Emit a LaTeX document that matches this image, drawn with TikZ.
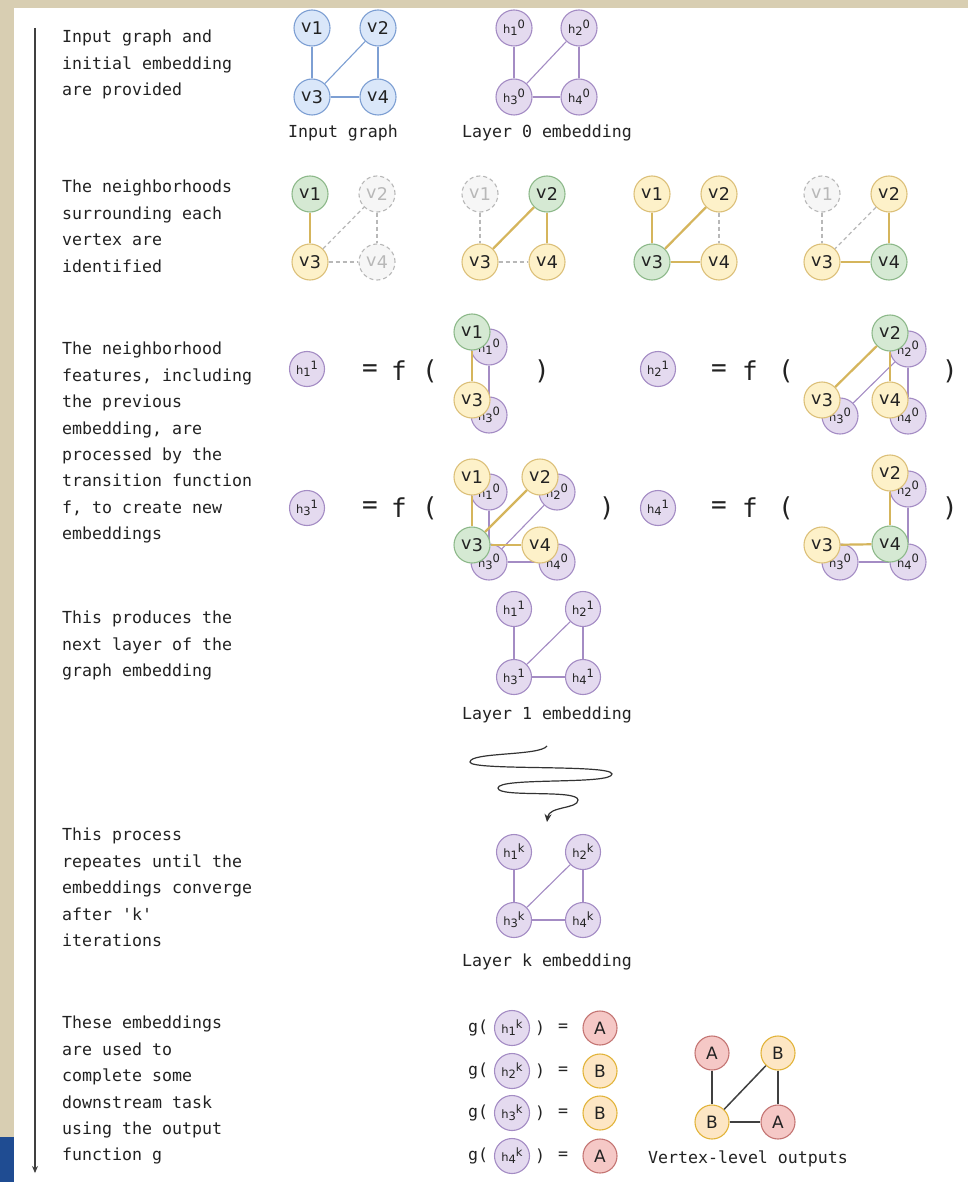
\documentclass[tikz,border=0pt]{standalone}
\usepackage{fontspec}
\setmainfont{DejaVu Sans}
\setmonofont{DejaVu Sans Mono}
\usetikzlibrary{arrows.meta}
\definecolor{beige}{HTML}{D8CEB2}
\definecolor{navy}{HTML}{1F4C92}
\definecolor{bluef}{HTML}{DAE7F9}
\definecolor{bluel}{HTML}{7D9FD3}
\definecolor{purf}{HTML}{E4DAEF}
\definecolor{purl}{HTML}{A48CC4}
\definecolor{grnf}{HTML}{D5E9D3}
\definecolor{grnl}{HTML}{8DB98A}
\definecolor{yelf}{HTML}{FDF1C9}
\definecolor{yell}{HTML}{DCC079}
\definecolor{gold}{HTML}{D5B55C}
\definecolor{redf}{HTML}{F5C8C6}
\definecolor{redl}{HTML}{C47573}
\definecolor{orgf}{HTML}{FDE6C4}
\definecolor{orgl}{HTML}{E2B43A}
\definecolor{ghostf}{HTML}{F6F6F6}
\definecolor{ghostl}{HTML}{B8B8B8}
\definecolor{txt}{HTML}{222222}
\newcommand\vlab[1]{v\kern0.3pt\raisebox{-1.5pt}{#1}}
\newcommand\hlab[2]{{\fontsize{11.5}{11.5}\selectfont h\raisebox{-2.5pt}{#1}\raisebox{4.5pt}{#2}}}
\newcommand\monotext{\ttfamily\fontsize{16.6}{26.4}\selectfont}
\tikzset{
  every node/.style={text=txt},
  gnode/.style={circle, draw, line width=1.1pt, inner sep=0pt, minimum size=36pt, font=\fontsize{17.5}{17.5}\selectfont},
  bluev/.style={gnode, fill=bluef, draw=bluel},
  purh/.style={gnode, fill=purf, draw=purl},
  grnv/.style={gnode, fill=grnf, draw=grnl},
  yelv/.style={gnode, fill=yelf, draw=yell},
  ghostv/.style={gnode, fill=ghostf, draw=ghostl, dashed, dash pattern=on 4pt off 3pt, text=ghostl},
  redo/.style={gnode, minimum size=34pt, fill=redf, draw=redl, font=\fontsize{17}{17}\selectfont},
  orgo/.style={gnode, minimum size=34pt, fill=orgf, draw=orgl, font=\fontsize{17}{17}\selectfont},
  bedge/.style={draw=bluel, line width=1.1pt},
  pedge/.style={draw=purl, line width=1.1pt},
  gedge/.style={draw=gold, line width=2.2pt},
  dedge/.style={draw=ghostl, line width=1.2pt, dash pattern=on 4pt off 3pt},
  kedge/.style={draw=black!75, line width=1.5pt},
  desc/.style={anchor=north west, inner sep=0pt, align=left, font=\monotext},
  captext/.style={inner sep=0pt, font=\monotext},
  eqtext/.style={inner sep=0pt, font=\ttfamily\fontsize{26}{26}\selectfont},
  gtext/.style={inner sep=0pt, font=\ttfamily\fontsize{16.6}{16.6}\selectfont},
}
\begin{document}
\begin{tikzpicture}[x=1pt,y=-1pt]
\useasboundingbox (0,0) rectangle (968,1182);
\fill[beige] (0,0) rectangle (968,1182);
\fill[white] (14,8) rectangle (968,1182);
\fill[navy] (0,1137) rectangle (14,1182);
% timeline
\coordinate (tl0) at (35,28);
\coordinate (tl1) at (35,1173);
\draw[black!75, line width=1.1pt, -{Stealth[length=7pt,width=6pt]}] (tl0) -- (tl1);

% descriptions
\node[desc] (d1) at (62,30) {Input graph and\\initial embedding\\are provided};
\node[desc] (d2) at (62,180) {The neighborhoods\\surrounding each\\vertex are\\identified};
\node[desc] (d3) at (62,342) {The neighborhood\\features, including\\the previous\\embedding, are\\processed by the\\transition function\\f, to create new\\embeddings};
\node[desc] (d4) at (62,611) {This produces the\\next layer of the\\graph embedding};
\node[desc] (d5) at (62,828) {This process\\repeates until the\\embeddings converge\\after 'k'\\iterations};
\node[desc] (d6) at (62,1016) {These embeddings\\are used to\\complete some\\downstream task\\using the output\\function g};

% ---------- input graph
\node[bluev] (i1) at (312,28) {\vlab1};
\node[bluev] (i2) at (378,28) {\vlab2};
\node[bluev] (i3) at (312,97) {\vlab3};
\node[bluev] (i4) at (378,97) {\vlab4};
\draw[bedge] (i1) -- (i3);
\draw[bedge] (i2) -- (i4);
\draw[bedge] (i3) -- (i4);
\draw[bedge] (i3) -- (i2);
\node[captext] (ic) at (343,133) {Input graph};

% ---------- layer 0
\node[purh] (z1) at (514,28) {\hlab10};
\node[purh] (z2) at (579,28) {\hlab20};
\node[purh] (z3) at (514,97) {\hlab30};
\node[purh] (z4) at (579,97) {\hlab40};
\draw[pedge] (z1) -- (z3);
\draw[pedge] (z2) -- (z4);
\draw[pedge] (z3) -- (z4);
\draw[pedge] (z3) -- (z2);
\node[captext] (zc) at (547,133) {Layer 0 embedding};

% ---------- neighborhoods
% graph a (v1)
\node[grnv] (a1) at (310,194) {\vlab1};
\node[ghostv] (a2) at (377,194) {\vlab2};
\node[yelv] (a3) at (310,262) {\vlab3};
\node[ghostv] (a4) at (377,262) {\vlab4};
\draw[gedge] (a1) -- (a3);
\draw[dedge] (a3) -- (a2);
\draw[dedge] (a2) -- (a4);
\draw[dedge] (a3) -- (a4);
% graph b (v2)
\node[ghostv] (b1) at (480,194) {\vlab1};
\node[grnv] (b2) at (547,194) {\vlab2};
\node[yelv] (b3) at (480,262) {\vlab3};
\node[yelv] (b4) at (547,262) {\vlab4};
\draw[dedge] (b1) -- (b3);
\draw[gedge] (b2) -- (b3);
\draw[gedge] (b2) -- (b4);
\draw[dedge] (b3) -- (b4);
% graph c (v3)
\node[yelv] (c1) at (652,194) {\vlab1};
\node[yelv] (c2) at (719,194) {\vlab2};
\node[grnv] (c3) at (652,262) {\vlab3};
\node[yelv] (c4) at (719,262) {\vlab4};
\draw[gedge] (c1) -- (c3);
\draw[gedge] (c2) -- (c3);
\draw[gedge] (c3) -- (c4);
\draw[dedge] (c2) -- (c4);
% graph d (v4)
\node[ghostv] (e1) at (822,194) {\vlab1};
\node[yelv] (e2) at (889,194) {\vlab2};
\node[yelv] (e3) at (822,262) {\vlab3};
\node[grnv] (e4) at (889,262) {\vlab4};
\draw[dedge] (e1) -- (e3);
\draw[dedge] (e2) -- (e3);
\draw[gedge] (e2) -- (e4);
\draw[gedge] (e3) -- (e4);

% ---------- transition h1
\node[purh, minimum size=35pt] (p1) at (307,369) {\hlab11};
\node[eqtext] (p1eq) at (370,371) {=};
\node[eqtext] (p1f) at (399,371) {f};
\node[eqtext] (p1o) at (430,371) {(};
\node[eqtext] (p1c) at (542,371) {)};
\node[purh] (p1h1) at (489,347) {\hlab10};
\node[purh] (p1h3) at (489,415) {\hlab30};
\draw[pedge] (p1h1) -- (p1h3);
\node[grnv] (p1v1) at (472,332) {\vlab1};
\node[yelv] (p1v3) at (472,400) {\vlab3};
\draw[gedge] (p1v1) -- (p1v3);

% ---------- transition h2
\node[purh, minimum size=35pt] (p2) at (658,369) {\hlab21};
\node[eqtext] (p2eq) at (719,371) {=};
\node[eqtext] (p2f) at (750,371) {f};
\node[eqtext] (p2o) at (786,371) {(};
\node[eqtext] (p2c) at (950,371) {)};
\node[purh] (p2h2) at (908,349) {\hlab20};
\node[purh] (p2h3) at (840,416) {\hlab30};
\node[purh] (p2h4) at (908,416) {\hlab40};
\draw[pedge] (p2h2) -- (p2h3);
\draw[pedge] (p2h2) -- (p2h4);
\node[grnv] (p2v2) at (890,333) {\vlab2};
\node[yelv] (p2v3) at (822,400) {\vlab3};
\node[yelv] (p2v4) at (890,400) {\vlab4};
\draw[gedge] (p2v2) -- (p2v3);
\draw[gedge] (p2v2) -- (p2v4);

% ---------- transition h3
\node[purh, minimum size=35pt] (p3) at (307,508) {\hlab31};
\node[eqtext] (p3eq) at (370,508) {=};
\node[eqtext] (p3f) at (399,508) {f};
\node[eqtext] (p3o) at (430,508) {(};
\node[eqtext] (p3c) at (607,508) {)};
\node[purh] (p3h1) at (489,492) {\hlab10};
\node[purh] (p3h2) at (557,492) {\hlab20};
\node[purh] (p3h3) at (489,562) {\hlab30};
\node[purh] (p3h4) at (557,562) {\hlab40};
\draw[pedge] (p3h1) -- (p3h3);
\draw[pedge] (p3h2) -- (p3h3);
\draw[pedge] (p3h3) -- (p3h4);
\node[yelv] (p3v1) at (472,477) {\vlab1};
\node[yelv] (p3v2) at (540,477) {\vlab2};
\node[grnv] (p3v3) at (472,545) {\vlab3};
\node[yelv] (p3v4) at (540,545) {\vlab4};
\draw[gedge] (p3v1) -- (p3v3);
\draw[gedge] (p3v2) -- (p3v3);
\draw[gedge] (p3v3) -- (p3v4);

% ---------- transition h4
\node[purh, minimum size=35pt] (p4) at (658,508) {\hlab41};
\node[eqtext] (p4eq) at (719,508) {=};
\node[eqtext] (p4f) at (750,508) {f};
\node[eqtext] (p4o) at (786,508) {(};
\node[eqtext] (p4c) at (950,508) {)};
\node[purh] (p4h2) at (908,489) {\hlab20};
\node[purh] (p4h3) at (840,562) {\hlab30};
\node[purh] (p4h4) at (908,562) {\hlab40};
\draw[pedge] (p4h2) -- (p4h4);
\draw[pedge] (p4h3) -- (p4h4);
\node[yelv] (p4v2) at (890,473) {\vlab2};
\node[yelv] (p4v3) at (822,545) {\vlab3};
\node[grnv] (p4v4) at (890,544) {\vlab4};
\draw[gedge] (p4v2) -- (p4v4);
\draw[gedge] (p4v3) -- (p4v4);

% ---------- layer 1
\node[purh, minimum size=35pt] (l1) at (514,609) {\hlab11};
\node[purh, minimum size=35pt] (l2) at (583,609) {\hlab21};
\node[purh, minimum size=35pt] (l3) at (514,677) {\hlab31};
\node[purh, minimum size=35pt] (l4) at (583,677) {\hlab41};
\draw[pedge] (l1) -- (l3);
\draw[pedge] (l2) -- (l4);
\draw[pedge] (l3) -- (l4);
\draw[pedge] (l3) -- (l2);
\node[captext] (lc) at (547,715) {Layer 1 embedding};

% ---------- squiggle
\coordinate (s0) at (547,746);
\coordinate (s1) at (470,762);
\coordinate (s2) at (612,774);
\coordinate (s3) at (498,788);
\coordinate (s4) at (578,800);
\coordinate (s5) at (547,822);
\draw[black!80, line width=1.2pt, -{Stealth[length=8pt,width=7pt]}]
  (s0) .. controls (540,756) and (470,752) .. (s1)
       .. controls (470,771) and (612,764) .. (s2)
       .. controls (612,785) and (498,777) .. (s3)
       .. controls (498,798) and (578,789) .. (s4)
       .. controls (578,809) and (549,806) .. (s5);

% ---------- layer k
\node[purh, minimum size=35pt] (k1) at (514,852) {\hlab1k};
\node[purh, minimum size=35pt] (k2) at (583,852) {\hlab2k};
\node[purh, minimum size=35pt] (k3) at (514,920) {\hlab3k};
\node[purh, minimum size=35pt] (k4) at (583,920) {\hlab4k};
\draw[pedge] (k1) -- (k3);
\draw[pedge] (k2) -- (k4);
\draw[pedge] (k3) -- (k4);
\draw[pedge] (k3) -- (k2);
\node[captext] (kc) at (547,962) {Layer k embedding};

% ---------- outputs
\foreach \i/\yy/\st/\lab in {1/1028/redo/A, 2/1071/orgo/B, 3/1113/orgo/B, 4/1156/redo/A}{
  \node[gtext] (g\i) at (478,\yy) {g(};
  \node[purh, minimum size=35pt] (gh\i) at (512,\yy) {\hlab{\i}k};
  \node[gtext] (gc\i) at (540,\yy) {)};
  \node[gtext] (ge\i) at (563,\yy) {=};
  \node[\st] (gr\i) at (600,\yy) {\lab};
}
\node[redo] (o1) at (712,1053) {A};
\node[orgo] (o2) at (778,1053) {B};
\node[orgo] (o3) at (712,1122) {B};
\node[redo] (o4) at (778,1122) {A};
\draw[kedge] (o1) -- (o3);
\draw[kedge] (o2) -- (o4);
\draw[kedge] (o3) -- (o4);
\draw[kedge] (o3) -- (o2);
\node[captext] (oc) at (748,1159) {Vertex-level outputs};
\end{tikzpicture}
\end{document}
